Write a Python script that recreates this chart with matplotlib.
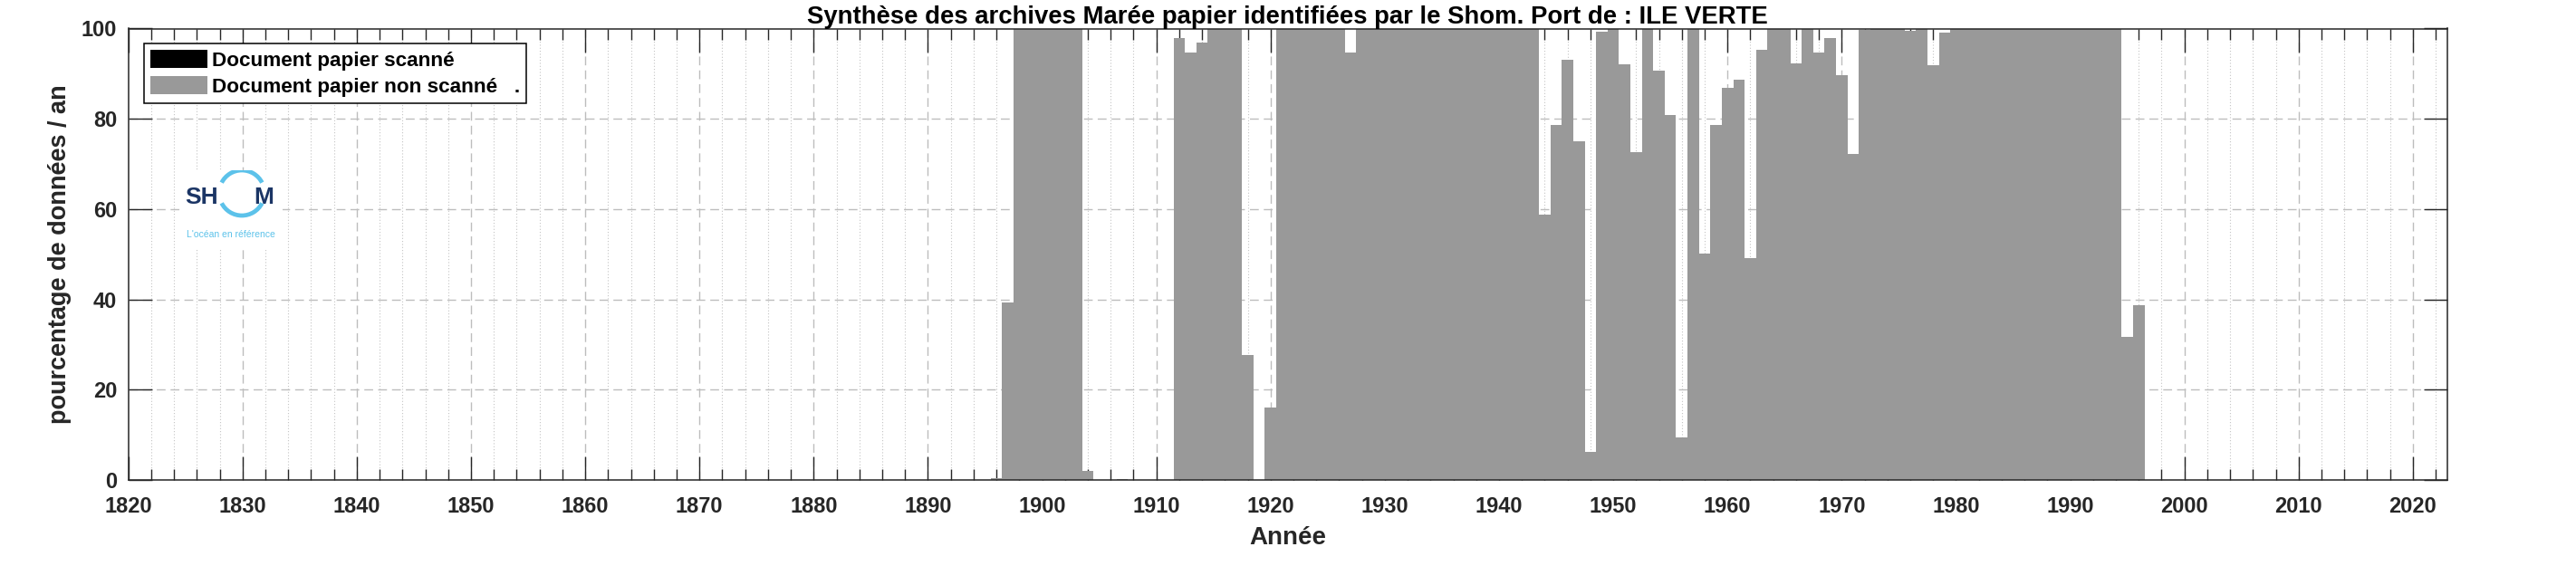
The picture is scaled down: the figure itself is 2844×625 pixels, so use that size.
import matplotlib

matplotlib.use("Agg")
import matplotlib.pyplot as plt
from matplotlib.patches import Arc
from matplotlib.ticker import MultipleLocator
import numpy as np

# pourcentage de données par an (années 1896 à 1996, 0 ailleurs)
annees = np.arange(1896, 1997)
non_scanne = [
    0.5, 39.4, 100, 100, 100, 100, 100, 100, 2.0, 0,          # 1896-1905
    0, 0.2, 0, 0, 0, 0, 97.9, 94.6, 96.9, 100,                 # 1906-1915
    100, 100, 27.6, 0, 16.0, 100, 100, 100, 100, 100,          # 1916-1925
    100, 94.6, 100, 100, 100, 100, 100, 100, 100, 100,         # 1926-1935
    100, 100, 100, 100, 100, 100, 100, 100, 58.8, 78.7,        # 1936-1945
    93.0, 75.1, 6.2, 99.2, 100, 92.1, 72.7, 100, 90.7, 80.8,   # 1946-1955
    9.5, 100, 50.1, 78.7, 86.9, 88.7, 49.2, 95.2, 100, 100,    # 1956-1965
    92.2, 100, 94.7, 97.9, 89.6, 72.3, 99.7, 100, 100, 100,    # 1966-1975
    99.4, 100, 91.9, 99.1, 100, 100, 100, 100, 100, 100,       # 1976-1985
    100, 100, 99.8, 100, 100, 100, 100, 100, 100, 31.7,        # 1986-1995
    38.7,                                                      # 1996
]
# aucun document scanné pour ce port
scanne = np.zeros(len(annees))

titre = "Synthèse des archives Marée papier identifiées par le Shom. Port de : ILE VERTE"
labels = ["Document papier scanné", "Document papier non scanné   ."]

plt.rcParams["font.family"] = ["Liberation Sans", "DejaVu Sans"]
plt.rcParams["font.weight"] = "bold"
plt.rcParams["axes.titleweight"] = "bold"
plt.rcParams["axes.labelweight"] = "bold"

W, H = 2844, 625
fig = plt.figure(figsize=(W / 100, H / 100), dpi=100)
ax = fig.add_axes([141.7 / W, 1 - 530 / H, 2560 / W, 498.5 / H])

fg = "#262626"
b1 = ax.bar(annees, scanne, width=1.0, color="black", edgecolor="none", zorder=2, label=labels[0])
b2 = ax.bar(annees, non_scanne, width=1.0, bottom=scanne, color="#999999",
            edgecolor="none", zorder=2, label=labels[1])

ax.set_xlim(1820, 2023)
ax.set_ylim(0, 100)
ax.xaxis.set_major_locator(MultipleLocator(10))
ax.xaxis.set_minor_locator(MultipleLocator(2))
ax.yaxis.set_major_locator(MultipleLocator(20))

# grille sous les barres, graduations au-dessus
xmaj = [x for x in ax.get_xticks() if 1820 < x < 2023]
xmin = [x for x in ax.xaxis.get_minorticklocs() if 1820 < x < 2023 and x % 10 != 0]
for x in xmin:
    ax.axvline(x, color="#c4c4c4", lw=0.8, ls=(0, (1, 2)), zorder=0.5)
for x in xmaj:
    ax.axvline(x, color="#bdbdbd", lw=1.0, ls=(0, (7, 4)), zorder=0.6)
for y in ax.get_yticks():
    if 0 < y < 100:
        ax.axhline(y, color="#bdbdbd", lw=1.0, ls=(0, (7, 4)), zorder=0.6)

ax.tick_params(which="both", direction="in", top=True, right=True, colors=fg,
               labelsize=17, width=1.0)
ax.tick_params(which="major", length=18.4)
ax.tick_params(axis="x", which="major", pad=13)
ax.tick_params(axis="y", which="major", pad=9)
ax.tick_params(which="minor", length=8.6)
for s in ax.spines.values():
    s.set_color(fg)
    s.set_linewidth(1.1)
    s.set_zorder(3)

ax.set_title(titre, fontsize=19.8, pad=4, color="black")
ax.set_xlabel("Année", fontsize=20, color=fg, labelpad=7)
ax.set_ylabel("pourcentage de données / an", fontsize=19.5, color=fg, labelpad=8)

leg = ax.legend(handles=[b1, b2], labels=labels, loc="upper left",
                bbox_to_anchor=(159 / W, 1 - 48 / H), bbox_transform=fig.transFigure,
                borderaxespad=0, fancybox=False, framealpha=1, edgecolor="black",
                prop={"size": 16.2, "weight": "bold"}, handlelength=2.8, handleheight=1.0,
                handletextpad=0.25, labelspacing=0.3, borderpad=0.3)
leg.get_frame().set_linewidth(1.1)
leg.set_zorder(5)

# logo Shom
lax = fig.add_axes([200 / W, 1 - 275 / H, 112 / W, 87 / H])
lax.set_xlim(200, 312)
lax.set_ylim(275, 188)
lax.set_xticks([])
lax.set_yticks([])
for s in lax.spines.values():
    s.set_visible(False)
lax.set_facecolor("white")
lax.set_zorder(4)
navy = "#1b3565"
cyan = "#5cc2ea"
lax.add_patch(Arc((267, 213), 50, 50, theta1=27, theta2=153, color=cyan, lw=3.4))
lax.add_patch(Arc((267, 213), 50, 50, theta1=207, theta2=333, color=cyan, lw=3.4))
lax.text(204, 218, "SH", color=navy, fontsize=19, fontweight="bold", va="center", ha="left")
lax.text(280, 218, "M", color=navy, fontsize=19, fontweight="bold", va="center", ha="left")
lax.text(255, 259, "L'océan en référence", color=cyan, fontsize=7.5, fontweight="normal",
         va="center", ha="center")

fig.savefig("out.png", dpi=100)
